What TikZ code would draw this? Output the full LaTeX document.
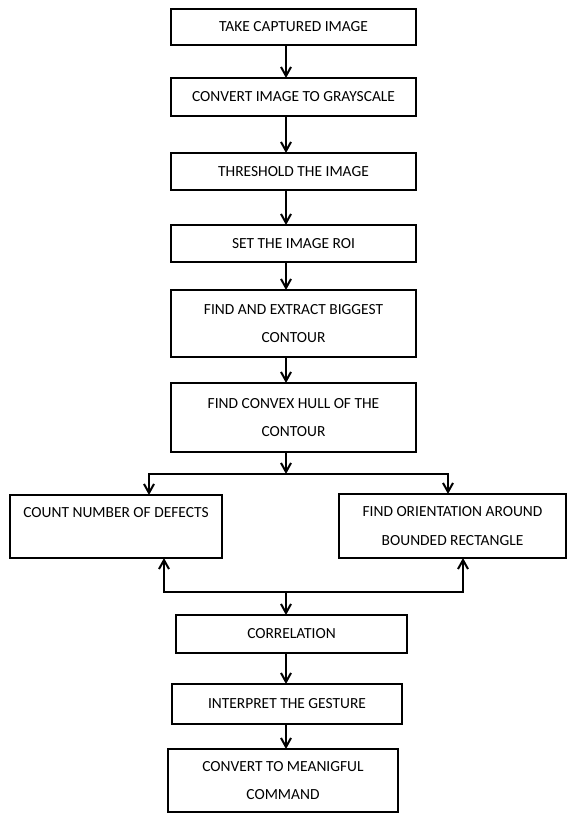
\documentclass[tikz,border=0pt]{standalone}
\usepackage{fontspec}
\setmainfont{Carlito}
\usepackage{tikz}
\usetikzlibrary{arrows.meta,positioning}

\begin{document}
\begin{tikzpicture}[
  stepbox/.style={draw=black, line width=2.6bp, fill=white, minimum width=245bp, inner sep=2bp, outer sep=0pt, align=center, font=\fontsize{15.5}{29}\selectfont},
  line/.style={-{Straight Barb[length=9bp, width=10bp]}, line width=2bp, draw=black}
]
\useasboundingbox (0,0) rectangle (571bp,-816bp);
\coordinate (spine) at (286bp,0);

% main chain
\node[stepbox, minimum height=36bp] (take) at (293.5bp,-27bp) {TAKE CAPTURED IMAGE};
\node[stepbox, minimum height=38bp, below=33bp of take] (gray) {CONVERT IMAGE TO GRAYSCALE};
\node[stepbox, minimum height=37bp, below=37bp of gray] (thresh) {THRESHOLD THE IMAGE};
\node[stepbox, minimum height=37bp, below=35bp of thresh] (roi) {SET THE IMAGE ROI};
\node[stepbox, minimum height=67bp, below=28bp of roi] (contour) {FIND AND EXTRACT BIGGEST\\CONTOUR};
\node[stepbox, minimum height=69bp, below=26bp of contour] (hull) {FIND CONVEX HULL OF THE\\CONTOUR};

% two branches
\node[stepbox, minimum width=212bp, minimum height=63bp] (count) at (116bp,-526.5bp) {COUNT NUMBER OF DEFECTS\\\phantom{X}};
\node[stepbox, minimum width=227bp, minimum height=64bp] (orient) at (452.5bp,-526bp) {FIND ORIENTATION AROUND\\BOUNDED RECTANGLE};

% after the branches
\node[stepbox, minimum width=231bp, minimum height=38bp] (corr) at (291.5bp,-634bp) {CORRELATION};
\node[stepbox, minimum width=230bp, minimum height=40bp] (interp) at (287bp,-704bp) {INTERPRET THE GESTURE};
\node[stepbox, minimum width=230bp, minimum height=63bp] (command) at (283bp,-780.5bp) {CONVERT TO MEANIGFUL\\COMMAND};

\coordinate (split) at (286bp,-474bp);
\coordinate (join) at (286bp,-592bp);

\draw[line] (take.south -| spine) -- (gray.north -| spine);
\draw[line] (gray.south -| spine) -- (thresh.north -| spine);
\draw[line] (thresh.south -| spine) -- (roi.north -| spine);
\draw[line] (roi.south -| spine) -- (contour.north -| spine);
\draw[line] (contour.south -| spine) -- (hull.north -| spine);
\draw[line] (hull.south -| spine) -- (split);
\draw[line] (split) -| ([xshift=33bp]count.north);
\draw[line] (split) -| ([xshift=-4.5bp]orient.north);
\draw[line] (join) -| ([xshift=48bp]count.south);
\draw[line] (join) -| ([xshift=10.5bp]orient.south);
\draw[line] (join) -- (corr.north -| spine);
\draw[line] (corr.south -| spine) -- (interp.north -| spine);
\draw[line] (interp.south -| spine) -- (command.north -| spine);
\end{tikzpicture}
\end{document}
